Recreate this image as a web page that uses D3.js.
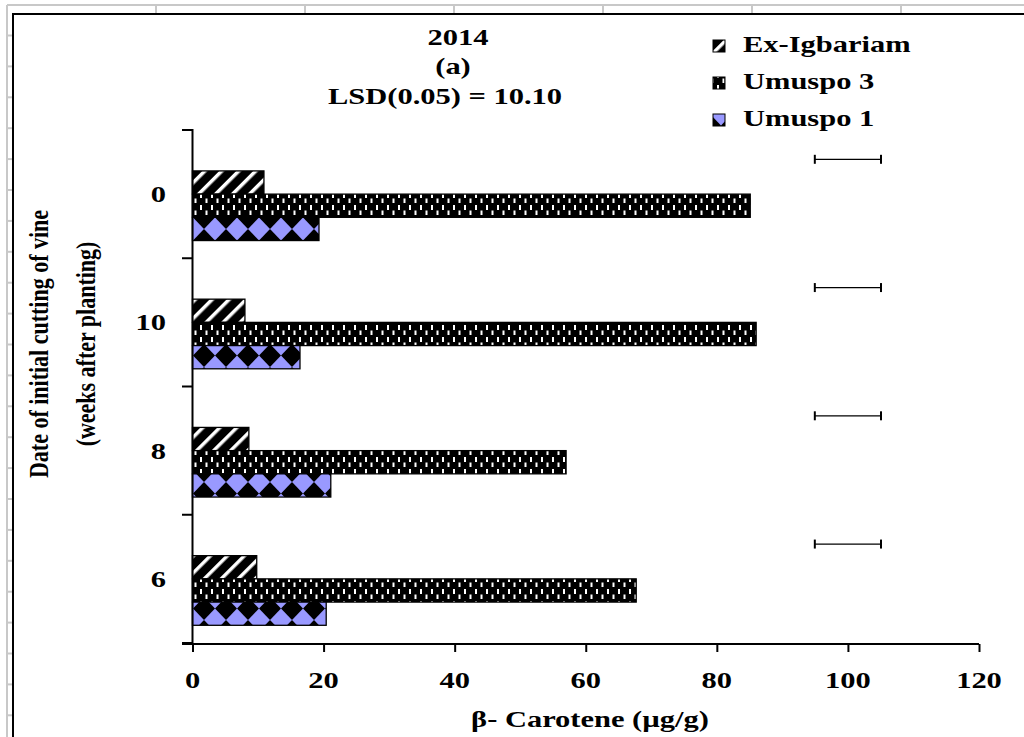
<!DOCTYPE html>
<html>
<head>
<meta charset="utf-8">
<script src="https://cdn.jsdelivr.net/npm/d3@7"></script>
<style>
  html, body { margin: 0; padding: 0; background: #fff; }
  svg text { font-family: "Liberation Serif", "Times New Roman", serif; font-weight: bold; fill: #000; }
</style>
</head>
<body>
<svg id="chart" width="1024" height="737"></svg>
<script>
// Beta-carotene by date of initial vine cutting, 2014 (a)
const categories = ["0", "10", "8", "6"];
const seriesNames = ["Ex-Igbariam", "Umuspo 3", "Umuspo 1"];
const exIgbariam = [10.9, 8.0, 8.6, 9.8];
const umuspo3 = [85.1, 86.0, 57.0, 67.7];
const umuspo1 = [19.3, 16.4, 21.1, 20.4];
const lsdCenter = [100, 100, 100, 100];
const lsd = 10.10;
const xTicks = [0, 20, 40, 60, 80, 100, 120];
const titleLines = ["2014", "(a)", "LSD(0.05) = 10.10"];

const SX = 1.27; // picture is stretched sideways
const svg = d3.select("#chart");

// spreadsheet grid behind the chart
const grid = svg.append("g").attr("stroke", "#c8c8c8").attr("stroke-width", 2);
grid.append("line").attr("x1", 7).attr("x2", 1024).attr("y1", 5).attr("y2", 5);
grid.append("line").attr("x1", 7).attr("x2", 7).attr("y1", 5).attr("y2", 737);
d3.range(156, 1024, 149).forEach(x =>
    grid.append("line").attr("x1", x).attr("x2", x).attr("y1", 5).attr("y2", 14));
d3.range(35.5, 737, 30.9).forEach(y =>
    grid.append("line").attr("x1", 7).attr("x2", 13).attr("y1", y).attr("y2", y));

svg.append("rect").attr("x", 13).attr("y", 14).attr("width", 1020).attr("height", 740)
    .attr("fill", "#fff").attr("stroke", "#000").attr("stroke-width", 2);

// pattern fills
const defs = svg.append("defs");
const p1 = defs.append("pattern").attr("id", "pat-ex").attr("patternUnits", "userSpaceOnUse")
    .attr("width", 12).attr("height", 12).attr("patternTransform", "rotate(45)");
p1.append("rect").attr("width", 12).attr("height", 12).attr("fill", "#000");
p1.append("rect").attr("x", 0).attr("y", 0).attr("width", 3.5).attr("height", 12).attr("fill", "#fff");

const p2 = defs.append("pattern").attr("id", "pat-u3").attr("patternUnits", "userSpaceOnUse")
    .attr("width", 11).attr("height", 12);
p2.append("rect").attr("width", 11).attr("height", 12).attr("fill", "#000");
p2.append("rect").attr("x", 2).attr("y", 1).attr("width", 2).attr("height", 5).attr("fill", "#fff");
p2.append("rect").attr("x", 7.5).attr("y", 6.5).attr("width", 2).attr("height", 4.5).attr("fill", "#fff");

const p3 = defs.append("pattern").attr("id", "pat-u1").attr("patternUnits", "userSpaceOnUse")
    .attr("width", 22).attr("height", 23).attr("x", -5).attr("y", -1);
p3.append("rect").attr("width", 22).attr("height", 23).attr("fill", "#9999ff");
p3.append("path").attr("d", "M11,0 L22,11.5 L11,23 L0,11.5 Z").attr("fill", "#000");

const fills = { "Ex-Igbariam": "url(#pat-ex)", "Umuspo 3": "url(#pat-u3)", "Umuspo 1": "url(#pat-u1)" };

// scales
const x = d3.scaleLinear().domain([0, 120]).range([192.5, 979]);
const y = d3.scaleBand().domain(categories).range([130, 643])
    .paddingInner(0.276).paddingOuter(0.138);
const ySub = d3.scaleBand().domain(["LSD", ...seriesNames]).range([0, y.bandwidth()]);

const bars = [];
categories.forEach((c, i) => {
    bars.push({ cat: c, name: "Ex-Igbariam", value: exIgbariam[i] });
    bars.push({ cat: c, name: "Umuspo 3", value: umuspo3[i] });
    bars.push({ cat: c, name: "Umuspo 1", value: umuspo1[i] });
});
const lsdRows = categories.map((c, i) => ({ cat: c, center: lsdCenter[i] }));

// bars
svg.selectAll(".bar").data(bars).enter().append("rect")
    .attr("class", "bar")
    .attr("x", x(0))
    .attr("y", d => y(d.cat) + ySub(d.name))
    .attr("width", d => x(d.value) - x(0))
    .attr("height", ySub.bandwidth())
    .attr("fill", d => fills[d.name])
    .attr("stroke", "#000").attr("stroke-width", 1.3);

// LSD error bars
const ebY = d => y(d.cat) + ySub("LSD") + ySub.bandwidth() / 2;
const eb = svg.selectAll(".lsd").data(lsdRows).enter().append("g")
    .attr("class", "lsd").attr("stroke", "#000");
eb.append("line")
    .attr("x1", d => x(d.center - lsd / 2)).attr("x2", d => x(d.center + lsd / 2))
    .attr("y1", ebY).attr("y2", ebY)
    .attr("stroke-width", 1.3);
eb.selectAll(".cap").data(d => [
        { cat: d.cat, v: d.center - lsd / 2 }, { cat: d.cat, v: d.center + lsd / 2 }])
    .enter().append("line")
    .attr("x1", d => x(d.v)).attr("x2", d => x(d.v))
    .attr("y1", d => ebY(d) - 4.5).attr("y2", d => ebY(d) + 4.5)
    .attr("stroke-width", 2);

// axes
const xAxis = svg.append("g").attr("transform", "translate(0,644)")
    .call(d3.axisBottom(x).tickValues(xTicks).tickSize(8).tickFormat(""));
xAxis.select(".domain").attr("d", `M182,0H${x(120)}`).attr("stroke-width", 2);
xAxis.selectAll(".tick line").attr("stroke-width", 2);

const yTickPos = d3.range(categories.length + 1).map(i => 130 + i * y.step());
const yAxis = svg.append("g").attr("stroke", "#000").attr("stroke-width", 2);
yAxis.append("line").attr("x1", 192.5).attr("x2", 192.5).attr("y1", 129).attr("y2", 645);
yAxis.selectAll(".yt").data(yTickPos).enter().append("line")
    .attr("x1", 182).attr("x2", 192.5).attr("y1", d => d).attr("y2", d => d);

// stretched text helper
function label(txt, px, py, size, anchor, rot) {
    const g = svg.append("g")
        .attr("transform", `translate(${px},${py}) scale(${SX},1)` + (rot ? " rotate(-90)" : ""));
    g.append("text").attr("text-anchor", anchor || "middle").attr("font-size", size).text(txt);
    return g;
}

xTicks.forEach(t => label(String(t), x(t), 688, 24, "middle"));
categories.forEach(c => label(c, 166, y(c) + y.bandwidth() / 2 + 8, 24, "end"));

label("β- Carotene (µg/g)", 590, 727, 24, "middle");
label("Date of initial cutting of vine", 48, 344, 22, "middle", true);
label("(weeks after planting)", 95, 344, 22, "middle", true);

label(titleLines[0], 458, 45, 24, "middle");
label(titleLines[1], 453, 74, 24, "middle");
label(titleLines[2], 445, 104, 24, "middle");

// legend (reverse order like the source)
seriesNames.forEach((s, i) => {
    const ly = 46 + i * 37;
    svg.append("rect").attr("x", 713).attr("y", ly - 6).attr("width", 12).attr("height", 12)
        .attr("fill", fills[s]).attr("stroke", "#000").attr("stroke-width", 1);
    label(s, 743, ly + 6, 24, "start");
});
</script>
</body>
</html>
